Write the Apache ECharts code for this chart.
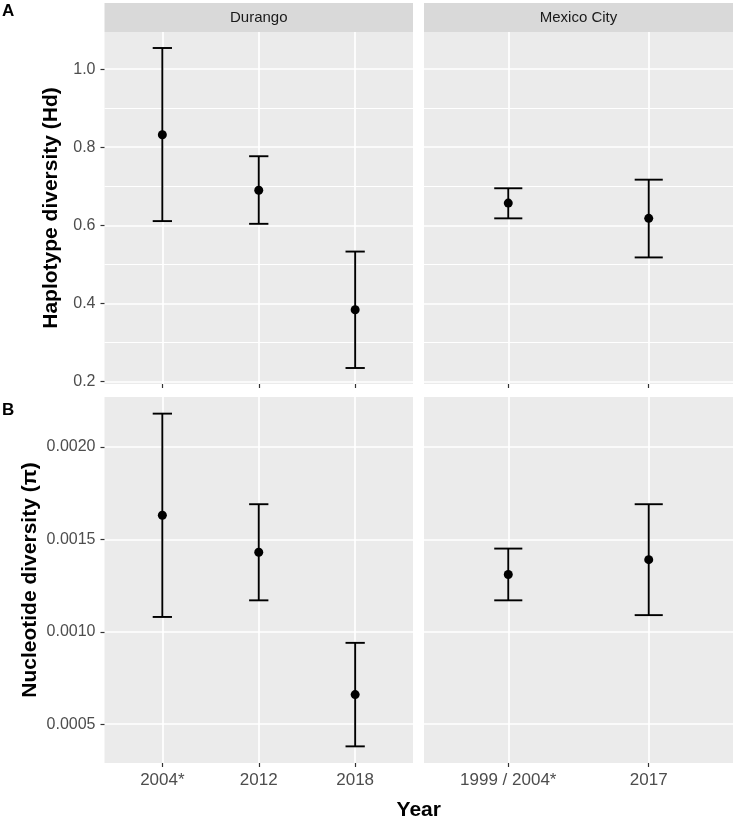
<!DOCTYPE html>
<html><head><meta charset="utf-8">
<script src="https://cdn.jsdelivr.net/npm/echarts@6/dist/echarts.min.js"></script>
<style>html,body{margin:0;padding:0;background:#fff}#c{width:735px;height:821px}</style>
</head><body><div id="c"></div>
<script>
// ---- data ----
const durangoYears = ['2004*', '2012', '2018'];
const mexicoYears = ['1999 / 2004*', '2017'];

const hdDurango     = [0.832, 0.690, 0.384];
const hdDurangoLow  = [0.611, 0.604, 0.235];
const hdDurangoHigh = [1.054, 0.777, 0.533];
const hdMexico      = [0.657, 0.618];
const hdMexicoLow   = [0.618, 0.518];
const hdMexicoHigh  = [0.695, 0.717];

const piDurango     = [0.00163, 0.00143, 0.00066];
const piDurangoLow  = [0.00108, 0.00117, 0.00038];
const piDurangoHigh = [0.00218, 0.00169, 0.00094];
const piMexico      = [0.00131, 0.00139];
const piMexicoLow   = [0.00117, 0.00109];
const piMexicoHigh  = [0.00145, 0.00169];

const hdTicks = [0.2, 0.4, 0.6, 0.8, 1.0];
const hdMinorTicks = [0.3, 0.5, 0.7, 0.9];
const piTicks = [0.0005, 0.0010, 0.0015, 0.0020];
const piMinorTicks = [0.00075, 0.00125, 0.00175];

// ---- helpers ----
const FONT = '"Liberation Sans", Arial, Helvetica, sans-serif';
function expandExtent(lists) {
  let lo = Infinity, hi = -Infinity;
  lists.forEach(a => a.forEach(v => { lo = Math.min(lo, v); hi = Math.max(hi, v); }));
  const pad = (hi - lo) * 0.05;
  return [lo - pad, hi + pad];
}
const hdExt = expandExtent([hdDurangoLow, hdDurangoHigh, hdMexicoLow, hdMexicoHigh]);
const piExt = expandExtent([piDurangoLow, piDurangoHigh, piMexicoLow, piMexicoHigh]);

const grids = [
  {left: 104.5, top: 32, width: 308.5, height: 352},
  {left: 424, top: 32, width: 309, height: 352},
  {left: 104.5, top: 397, width: 308.5, height: 366},
  {left: 424, top: 397, width: 309, height: 366}
].map(g => Object.assign(g, {show: true, backgroundColor: '#EBEBEB', borderWidth: 0}));

const panels = [
  {cats: durangoYears, mean: hdDurango, low: hdDurangoLow, high: hdDurangoHigh, minor: hdMinorTicks},
  {cats: mexicoYears, mean: hdMexico, low: hdMexicoLow, high: hdMexicoHigh, minor: hdMinorTicks},
  {cats: durangoYears, mean: piDurango, low: piDurangoLow, high: piDurangoHigh, minor: piMinorTicks},
  {cats: mexicoYears, mean: piMexico, low: piMexicoLow, high: piMexicoHigh, minor: piMinorTicks}
];

const xAxes = panels.map((p, i) => {
  const pos = p.cats.map((c, k) => k + 1);
  return {
    type: 'value', gridIndex: i, min: 0.4, max: p.cats.length + 0.6,
    axisLine: {show: false},
    axisTick: {show: true, length: 4, customValues: pos, lineStyle: {color: '#333333', width: 1.2}},
    axisLabel: {show: i >= 2, customValues: pos, margin: 9,
      formatter: v => p.cats[Math.round(v) - 1] || '',
      color: '#4D4D4D', fontSize: 17, fontFamily: FONT},
    splitLine: {show: true, lineStyle: {color: '#FFFFFF', width: 1.7}}
  };
});

const yAxes = panels.map((p, i) => {
  const top = i < 2;
  const ticks = top ? hdTicks : piTicks;
  const ext = top ? hdExt : piExt;
  const left = i % 2 === 0;
  const ax = {
    type: 'value', gridIndex: i, min: ext[0], max: ext[1],
    axisLine: {show: false},
    axisTick: {show: left, length: 4, customValues: ticks, lineStyle: {color: '#333333', width: 1.2}},
    axisLabel: {show: left, customValues: ticks, margin: 9,
      formatter: v => top ? v.toFixed(1) : v.toFixed(4),
      color: '#4D4D4D', fontSize: 16, fontFamily: FONT},
    splitLine: {show: true, lineStyle: {color: '#FFFFFF', width: 1.7}}
  };
  if (left) {
    ax.name = top ? 'Haplotype diversity (Hd)' : 'Nucleotide diversity (π)';
    ax.nameLocation = 'middle';
    ax.nameGap = top ? 43 : 64;
    ax.nameTextStyle = {fontSize: 21, fontWeight: 'bold', color: '#000', fontFamily: FONT};
  }
  return ax;
});

const CAP = 0.1;
function errorBarItem(params, api) {
  const x = api.value(0), lo = api.value(1), hi = api.value(2);
  const t = api.coord([x, hi]), b = api.coord([x, lo]);
  const tl = api.coord([x - CAP, hi]), tr = api.coord([x + CAP, hi]);
  const bl = api.coord([x - CAP, lo]), br = api.coord([x + CAP, lo]);
  const style = {stroke: '#000', lineWidth: 1.9, fill: null};
  return {type: 'group', children: [
    {type: 'line', shape: {x1: t[0], y1: t[1], x2: b[0], y2: b[1]}, style},
    {type: 'line', shape: {x1: tl[0], y1: tl[1], x2: tr[0], y2: tr[1]}, style},
    {type: 'line', shape: {x1: bl[0], y1: bl[1], x2: br[0], y2: br[1]}, style}
  ]};
}

const series = [];
panels.forEach((p, i) => {
  series.push({
    type: 'line', xAxisIndex: i, yAxisIndex: i, data: [], silent: true, z: 1,
    markLine: {silent: true, symbol: 'none', z: 1, animation: false,
      label: {show: false},
      lineStyle: {color: '#FFFFFF', width: 1, type: 'solid', opacity: 1},
      data: p.minor.map(v => ({yAxis: v}))}
  });
  series.push({
    type: 'custom', xAxisIndex: i, yAxisIndex: i, z: 3, silent: true,
    renderItem: errorBarItem,
    encode: {x: 0, y: [1, 2]},
    data: p.cats.map((c, k) => [k + 1, p.low[k], p.high[k]])
  });
  series.push({
    type: 'scatter', xAxisIndex: i, yAxisIndex: i, z: 4, silent: true,
    symbol: 'circle', symbolSize: 9, itemStyle: {color: '#000', opacity: 1},
    data: p.cats.map((c, k) => [k + 1, p.mean[k]])
  });
});

const strips = [
  {g: grids[0], text: 'Durango'},
  {g: grids[1], text: 'Mexico City'}
];
const graphic = [];
strips.forEach(s => {
  graphic.push({type: 'rect', left: s.g.left, top: 3, shape: {width: s.g.width, height: s.g.top - 3}, style: {fill: '#D9D9D9'}, silent: true});
  graphic.push({type: 'text', x: s.g.left + s.g.width / 2, y: 3 + (s.g.top - 3) / 2,
    style: {text: s.text, fill: '#1A1A1A', font: '15px ' + FONT, textAlign: 'center', textVerticalAlign: 'middle'}, silent: true});
});
graphic.push({type: 'text', x: 2, y: 11, style: {text: 'A', fill: '#000', font: 'bold 17px ' + FONT, textAlign: 'left', textVerticalAlign: 'middle'}});
graphic.push({type: 'text', x: 2, y: 410, style: {text: 'B', fill: '#000', font: 'bold 17px ' + FONT, textAlign: 'left', textVerticalAlign: 'middle'}});
graphic.push({type: 'text', x: (grids[0].left + grids[1].left + grids[1].width) / 2, y: 810,
  style: {text: 'Year', fill: '#000', font: 'bold 21px ' + FONT, textAlign: 'center', textVerticalAlign: 'middle'}});

const chart = echarts.init(document.getElementById('c'), null, {renderer: 'canvas'});
chart.setOption({
  backgroundColor: '#FFFFFF',
  animation: false,
  grid: grids,
  xAxis: xAxes,
  yAxis: yAxes,
  series: series,
  graphic: graphic
});
</script></body></html>
